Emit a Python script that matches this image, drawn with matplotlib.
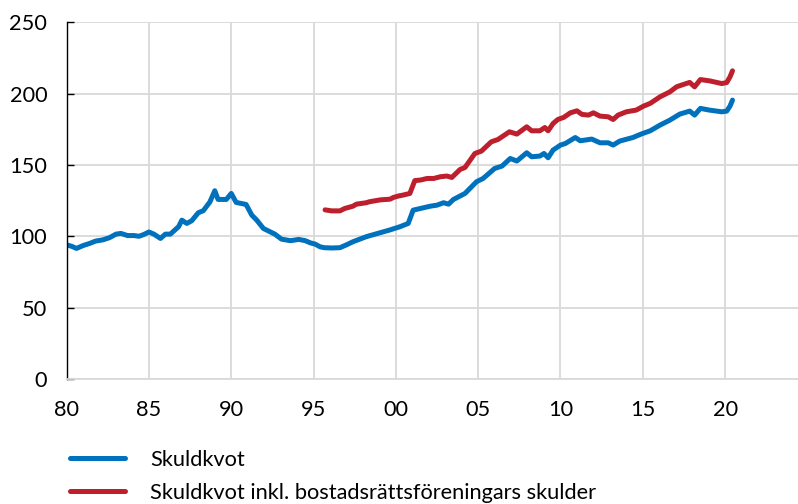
import matplotlib.pyplot as plt

plt.rcParams['font.family'] = ['Lato', 'DejaVu Sans']

# blue series: skuldkvot
t_blue = [1980.0, 1980.3, 1980.6, 1981.0, 1981.4, 1981.75, 1982.2, 1982.6, 1983.0, 1983.3,
          1983.7, 1984.1, 1984.4, 1984.7, 1985.0, 1985.3, 1985.7, 1986.0, 1986.3, 1986.8,
          1987.0, 1987.3, 1987.6, 1988.0, 1988.3, 1988.7, 1989.0, 1989.2, 1989.7, 1990.0,
          1990.3, 1990.6, 1990.9, 1991.25, 1991.55, 1991.95, 1992.35, 1992.65, 1993.05, 1993.6,
          1994.1, 1994.5, 1994.8, 1995.1, 1995.4, 1995.65, 1996.1, 1996.6, 1997.0, 1997.4,
          1998.2, 1999.05, 1999.6, 2000.25, 2000.75, 2001.05, 2001.5, 2002.1, 2002.5, 2002.9,
          2003.2, 2003.5, 2004.2, 2004.9, 2005.3, 2006.0, 2006.45, 2006.95, 2007.35, 2007.95,
          2008.25, 2008.75, 2009.0, 2009.25, 2009.55, 2009.85, 2010.0, 2010.3, 2010.9, 2011.2,
          2011.9, 2012.4, 2012.9, 2013.2, 2013.6, 2014.4, 2014.9, 2015.45, 2016.05, 2016.65,
          2017.25, 2017.85, 2018.15, 2018.5, 2019.05, 2019.8, 2020.1, 2020.3, 2020.45]
v_blue = [94, 93, 91.5, 93.5, 95, 96.6, 97.5, 99, 101.5, 102,
          100.5, 100.5, 100, 101.3, 103, 101.5, 98.5, 101.5, 101.5, 106.7,
          111.3, 109, 110.9, 116.5, 117.9, 124, 131.9, 125.8, 125.8, 130,
          123.7, 123, 122.3, 114.8, 111.3, 105.5, 103.2, 101.5, 98, 96.9,
          97.8, 96.9, 95.4, 94.5, 92.6, 92, 91.8, 92, 94, 96.2,
          99.7, 102.5, 104.3, 106.7, 109, 118.3, 119.5, 121.1, 121.8, 123.5,
          122.5, 125.8, 130, 138.2, 140.5, 147.5, 149.2, 154.5, 152.7, 158.5,
          155.7, 156.2, 158, 155, 160.4, 162.7, 163.9, 165, 169.2, 166.9,
          168.1, 165.5, 165.5, 163.9, 166.7, 169.2, 171.6, 173.9, 177.9, 181.4,
          185.6, 187.7, 184.9, 189.6, 188.4, 187.2, 187.7, 191.2, 195.4]

# red series: incl. bostadsrättsföreningars skulder
t_red = [1995.7, 1996.1, 1996.6, 1996.9, 1997.4, 1997.6, 1998.2, 1998.4, 1999.05, 1999.65,
         1999.85, 2000.15, 2000.45, 2000.85, 2001.15, 2001.5, 2001.9, 2002.3, 2002.7, 2003.1,
         2003.4, 2003.9, 2004.2, 2004.8, 2005.2, 2005.8, 2006.2, 2006.9, 2007.35, 2007.95,
         2008.25, 2008.75, 2009.05, 2009.25, 2009.55, 2009.85, 2010.2, 2010.6, 2011.0, 2011.3,
         2011.7, 2012.0, 2012.4, 2012.9, 2013.2, 2013.5, 2014.0, 2014.6, 2015.05, 2015.45,
         2016.05, 2016.65, 2017.05, 2017.35, 2017.85, 2018.15, 2018.5, 2019.05, 2019.8, 2020.1,
         2020.3, 2020.45]
v_red = [118.5, 117.8, 117.8, 119.5, 121.1, 122.5, 123.5, 124.2, 125.5, 126,
         127.2, 128.2, 128.9, 130, 139, 139.4, 140.5, 140.5, 141.7, 142.2,
         141.2, 146.8, 148.2, 158, 159.7, 166.2, 167.8, 173.2, 171.6, 176.7,
         173.9, 173.9, 176.2, 173.9, 179, 181.9, 183.3, 186.5, 187.9, 185.4,
         184.9, 186.5, 184.2, 183.7, 181.8, 184.9, 187.2, 188.4, 191.2, 193.1,
         197.7, 201.2, 204.7, 205.9, 207.8, 204.7, 209.8, 208.9, 207, 207.7,
         211.7, 215.9]

xticks = [1980, 1985, 1990, 1995, 2000, 2005, 2010, 2015, 2020]
xlabels = ['80', '85', '90', '95', '00', '05', '10', '15', '20']
yticks = [0, 50, 100, 150, 200, 250]

fig = plt.figure(figsize=(7.98, 5.04), dpi=100)
ax = fig.add_axes([0.0835, 0.248, 0.9165, 0.708])

ax.plot(t_blue, v_blue, color='#0071bc', lw=3.6, solid_capstyle='round',
        solid_joinstyle='round', label='Skuldkvot')
ax.plot(t_red, v_red, color='#bd1f2d', lw=3.6, solid_capstyle='round',
        solid_joinstyle='round', label='Skuldkvot inkl. bostadsrättsföreningars skulder')

ax.set_xlim(1980, 2024.43)
ax.set_ylim(0, 250)
ax.set_xticks(xticks)
ax.set_xticklabels(xlabels)
ax.set_yticks(yticks)
ax.grid(True, color='#d9d9d9', lw=1.3)
ax.set_axisbelow(True)

for s in ['top', 'right']:
    ax.spines[s].set_visible(False)
ax.spines['left'].set_color('black')
ax.spines['left'].set_linewidth(1.0)
ax.spines['bottom'].set_color('#d9d9d9')
ax.spines['bottom'].set_linewidth(1.3)

ax.tick_params(axis='y', direction='in', length=5, width=1, color='black',
               pad=14, labelsize=15.7)
ax.tick_params(axis='x', length=0, pad=15, labelsize=15.7)

fig.legend(loc='upper left', bbox_to_anchor=(0.0877, 0.108), frameon=False,
           fontsize=15.7, handlelength=2.52, handletextpad=1.15, labelspacing=0.62,
           borderaxespad=0, borderpad=0)

fig.savefig('out.png', dpi=100)
